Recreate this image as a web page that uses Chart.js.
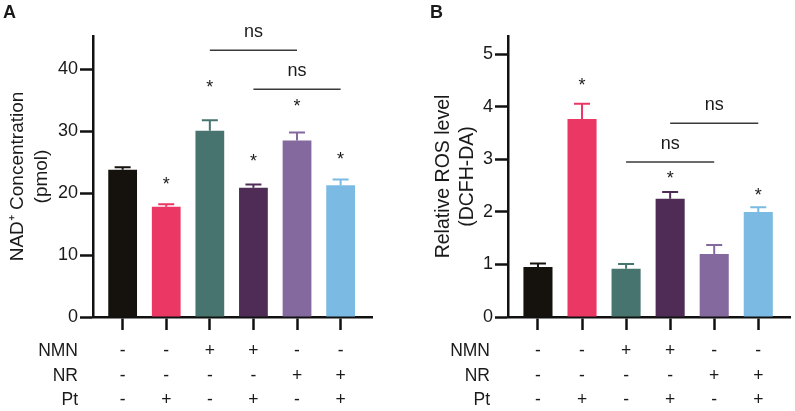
<!DOCTYPE html>
<html>
<head>
<meta charset="utf-8">
<script src="https://cdn.jsdelivr.net/npm/chart.js@4.4.1/dist/chart.umd.min.js"></script>
<style>
    html, body { margin: 0; padding: 0; background: #fff; }
    #contenedor { position: relative; width: 795px; height: 411px; }
    #graficaA { position: absolute; left: 0; top: 0; }
    #graficaB { position: absolute; left: 400px; top: 0; }
</style>
</head>
<body>
<div id="contenedor">
    <canvas id="graficaA" width="400" height="411" style="width:400px;height:411px"></canvas>
    <canvas id="graficaB" width="395" height="411" style="width:395px;height:411px"></canvas>
</div>
<script>
// **** Datos de la figura ****

// Posicion de cada grupo en el eje x
const grupos = [0, 1, 2, 3, 4, 5];

// Panel A: NAD+ (pmol), media y SEM
const nadMedia = [23.8, 17.8, 30.1, 20.9, 28.5, 21.3];
const nadSem   = [0.4, 0.4, 1.7, 0.5, 1.3, 0.9];
const nadTicks = [0, 10, 20, 30, 40];
const nadEstrellas = [null, 22.0, 37.6, 25.7, 34.6, 26.0];
const nadNs = [[2, 4, 43.1], [3, 5, 36.8]];          // [desde, hasta, y]

// Panel B: ROS relativo (DCFH-DA), media y SEM
const rosMedia = [0.95, 3.77, 0.92, 2.25, 1.20, 2.00];
const rosSem   = [0.07, 0.29, 0.09, 0.13, 0.17, 0.09];
const rosTicks = [0, 1, 2, 3, 4, 5];
const rosEstrellas = [null, 4.47, null, 2.71, null, 2.37];
const rosNs = [[2, 4, 2.95], [3, 5, 3.69]];

// Tabla de tratamientos bajo el eje x
const filasTabla = ['NMN', 'NR', 'Pt'];
const tratNMN = ['-', '-', '+', '+', '-', '-'];
const tratNR  = ['-', '-', '-', '-', '+', '+'];
const tratPt  = ['-', '+', '-', '+', '-', '+'];

window.onload = function () {

    const colores = ['#15120e', '#ea3763', '#48746f', '#4f2c56', '#83699d', '#7bbbe3'];
    const fuente = "'Liberation Sans', Arial, Helvetica, sans-serif";
    const negro = '#111';

    /**
     * Plugin extras
     * Dibuja barras de error, asteriscos, lineas "ns", la tabla y la letra del panel
     */
    const pluginExtras = {
        id: 'extras',
        afterDatasetsDraw(chart, args, o) {
            const ctx = chart.ctx;
            const y = chart.scales.y;
            const meta = chart.getDatasetMeta(0);
            ctx.save();
            ctx.lineWidth = 2;
            meta.data.forEach(function (barra, i) {
                const arriba = y.getPixelForValue(o.media[i] + o.sem[i]);
                ctx.strokeStyle = colores[i];
                ctx.beginPath();
                ctx.moveTo(barra.x, barra.y);
                ctx.lineTo(barra.x, arriba);
                ctx.moveTo(barra.x - 8, arriba);
                ctx.lineTo(barra.x + 8, arriba);
                ctx.stroke();
            });
            ctx.restore();
        },
        afterDraw(chart, args, o) {
            const ctx = chart.ctx;
            const x = chart.scales.x;
            const y = chart.scales.y;
            ctx.save();
            ctx.fillStyle = '#1a1a1a';
            ctx.textAlign = 'center';

            // Asteriscos
            ctx.font = '18px ' + fuente;
            ctx.textBaseline = 'middle';
            o.estrellas.forEach(function (v, i) {
                if (v === null) return;
                ctx.fillText('*', x.getPixelForValue(grupos[i]), y.getPixelForValue(v) + 4);
            });

            // Lineas ns
            ctx.strokeStyle = '#3a3a3a';
            ctx.lineWidth = 1.6;
            o.ns.forEach(function (c) {
                const py = y.getPixelForValue(c[2]);
                const x1 = x.getPixelForValue(c[0]);
                const x2 = x.getPixelForValue(c[1]);
                ctx.beginPath();
                ctx.moveTo(x1, py);
                ctx.lineTo(x2, py);
                ctx.stroke();
                ctx.fillText('ns', (x1 + x2) / 2, py - 18);
            });

            // Tabla de tratamientos
            const base = chart.chartArea.bottom;
            const tablas = [tratNMN, tratNR, tratPt];
            const desplaz = [34, 59, 83];
            ctx.font = '17.5px ' + fuente;
            filasTabla.forEach(function (nombre, f) {
                const py = base + desplaz[f];
                ctx.textAlign = 'right';
                ctx.fillText(nombre, chart.chartArea.left - o.margenTabla, py);
                ctx.textAlign = 'center';
                tablas[f].forEach(function (s, i) {
                    ctx.fillText(s, x.getPixelForValue(grupos[i]), py);
                });
            });

            // Letra del panel
            ctx.textAlign = 'left';
            ctx.textBaseline = 'top';
            ctx.font = 'bold 18px ' + fuente;
            ctx.fillText(o.letra, o.letraX, 4);
            ctx.restore();
        }
    };

    /**
     * Funcion crearGrafica
     * Crea una grafica de barras para un panel con su eje y, titulo y anotaciones
     */
    function crearGrafica(id, media, ticks, maxY, titulo, tamTitulo, padTitulo, anchoEje, padDerecha, extras) {
        return new Chart(document.getElementById(id), {
            type: 'bar',
            data: {
                datasets: [{
                    data: media.map(function (v, i) { return { x: grupos[i], y: v }; }),
                    backgroundColor: colores,
                    borderWidth: 0,
                    categoryPercentage: 1,
                    barPercentage: 0.66
                }]
            },
            options: {
                responsive: false,
                animation: false,
                layout: { padding: { top: 36, right: padDerecha, bottom: 81, left: 0 } },
                plugins: {
                    legend: { display: false },
                    tooltip: { enabled: false },
                    extras: extras
                },
                scales: {
                    x: {
                        type: 'linear',
                        offset: false,
                        min: -0.68,
                        max: 5.72,
                        afterBuildTicks: function (s) { s.ticks = grupos.map(function (v) { return { value: v }; }); },
                        grid: { offset: false, drawOnChartArea: false, tickLength: 13, tickWidth: 2.5, tickColor: negro },
                        border: { color: negro, width: 2.5 },
                        ticks: { display: false }
                    },
                    y: {
                        min: 0,
                        max: maxY,
                        afterBuildTicks: function (s) { s.ticks = ticks.map(function (v) { return { value: v }; }); },
                        afterFit: function (s) { s.width = anchoEje; },
                        grid: { drawOnChartArea: false, tickLength: 13, tickWidth: 2.5, tickColor: negro },
                        border: { color: negro, width: 2.5 },
                        ticks: { font: { family: fuente, size: 18 }, color: '#1a1a1a', padding: 2 },
                        title: {
                            display: true,
                            text: titulo,
                            color: '#1a1a1a',
                            font: { family: fuente, size: tamTitulo, lineHeight: 1.25 },
                            padding: { top: padTitulo, bottom: 0 }
                        }
                    }
                }
            },
            plugins: [pluginExtras]
        });
    }

    // Flujo del programa
    crearGrafica('graficaA', nadMedia, nadTicks, 45.4,
        ['NAD\u207A Concentration', '(pmol)'], 19, 6, 93, 28,
        { media: nadMedia, sem: nadSem, estrellas: nadEstrellas, ns: nadNs,
          margenTabla: 15, letra: 'A', letraX: 3 });

    crearGrafica('graficaB', rosMedia, rosTicks, 5.35,
        ['Relative ROS level', '(DCFH-DA)'], 19.5, 31, 108, 5,
        { media: rosMedia, sem: rosSem, estrellas: rosEstrellas, ns: rosNs,
          margenTabla: 18, letra: 'B', letraX: 30 });
};
</script>
</body>
</html>
